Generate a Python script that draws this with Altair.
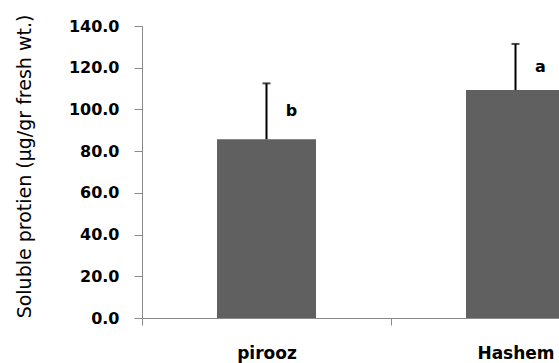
import altair as alt
import pandas as pd

cultivars = ["pirooz", "Hashem"]
means = [85.7, 109.3]
errors = [26.8, 22.1]
letters = ["b", "a"]

df = pd.DataFrame({
    "cultivar": cultivars,
    "mean": means,
    "err": errors,
    "letter": letters,
})
df["upper"] = df["mean"] + df["err"]
df["mid"] = df["mean"] + df["err"] / 2

AXIS_COLOR = "#8a8a8a"

x_enc = alt.X(
    "cultivar:N",
    sort=cultivars,
    scale=alt.Scale(range=[0, 498], paddingInner=0, paddingOuter=0),
    axis=alt.Axis(
        title=None,
        labelAngle=0,
        tickBand="extent",
        tickSize=7,
        labelPadding=20,
        labelFont="DejaVu Sans",
        labelFontWeight="bold",
        labelFontSize=17,
        labelColor="#000000",
        domainColor=AXIS_COLOR,
        tickColor=AXIS_COLOR,
    ),
)

y_scale = alt.Scale(domain=[0, 140], nice=False)

bars = alt.Chart(df).mark_bar(color="#606060", width=99).encode(
    x=x_enc,
    y=alt.Y(
        "mean:Q",
        scale=y_scale,
        axis=alt.Axis(
            title="Soluble protien (μg/gr fresh wt.)",
            values=[0, 20, 40, 60, 80, 100, 120, 140],
            format=".1f",
            grid=False,
            tickSize=8,
            labelPadding=15,
            labelFont="DejaVu Sans",
            labelFontWeight="bold",
            labelFontSize=16,
            labelColor="#000000",
            domainColor=AXIS_COLOR,
            tickColor=AXIS_COLOR,
            titleFont="DejaVu Sans",
            titleFontWeight="normal",
            titleFontSize=19,
            titleColor="#000000",
            titleX=-118,
            titleY=140,
            titleAlign="center",
            titleBaseline="middle",
            titleAngle=270,
        ),
    ),
)

rules = alt.Chart(df).mark_rule(color="#000000", strokeWidth=2).encode(
    x=alt.X("cultivar:N", sort=cultivars),
    y=alt.Y("mean:Q", scale=y_scale),
    y2="upper:Q",
)

caps = alt.Chart(df).mark_tick(color="#000000", size=8, thickness=2).encode(
    x=alt.X("cultivar:N", sort=cultivars),
    y=alt.Y("upper:Q", scale=y_scale),
)

labels = alt.Chart(df).mark_text(
    dx=25, fontSize=16, fontWeight="bold", font="DejaVu Sans", color="#000000"
).encode(
    x=alt.X("cultivar:N", sort=cultivars),
    y=alt.Y("mid:Q", scale=y_scale),
    text="letter:N",
)

chart = (
    alt.layer(bars, rules, caps, labels)
    .properties(
        width=417,
        height=292,
        autosize=alt.AutoSizeParams(type="none"),
        padding={"left": 142, "top": 26, "right": 0, "bottom": 45},
        background="#ffffff",
    )
    .configure_view(stroke=None)
)

chart.save("out.html", embed_options={"renderer": "svg", "actions": False})
